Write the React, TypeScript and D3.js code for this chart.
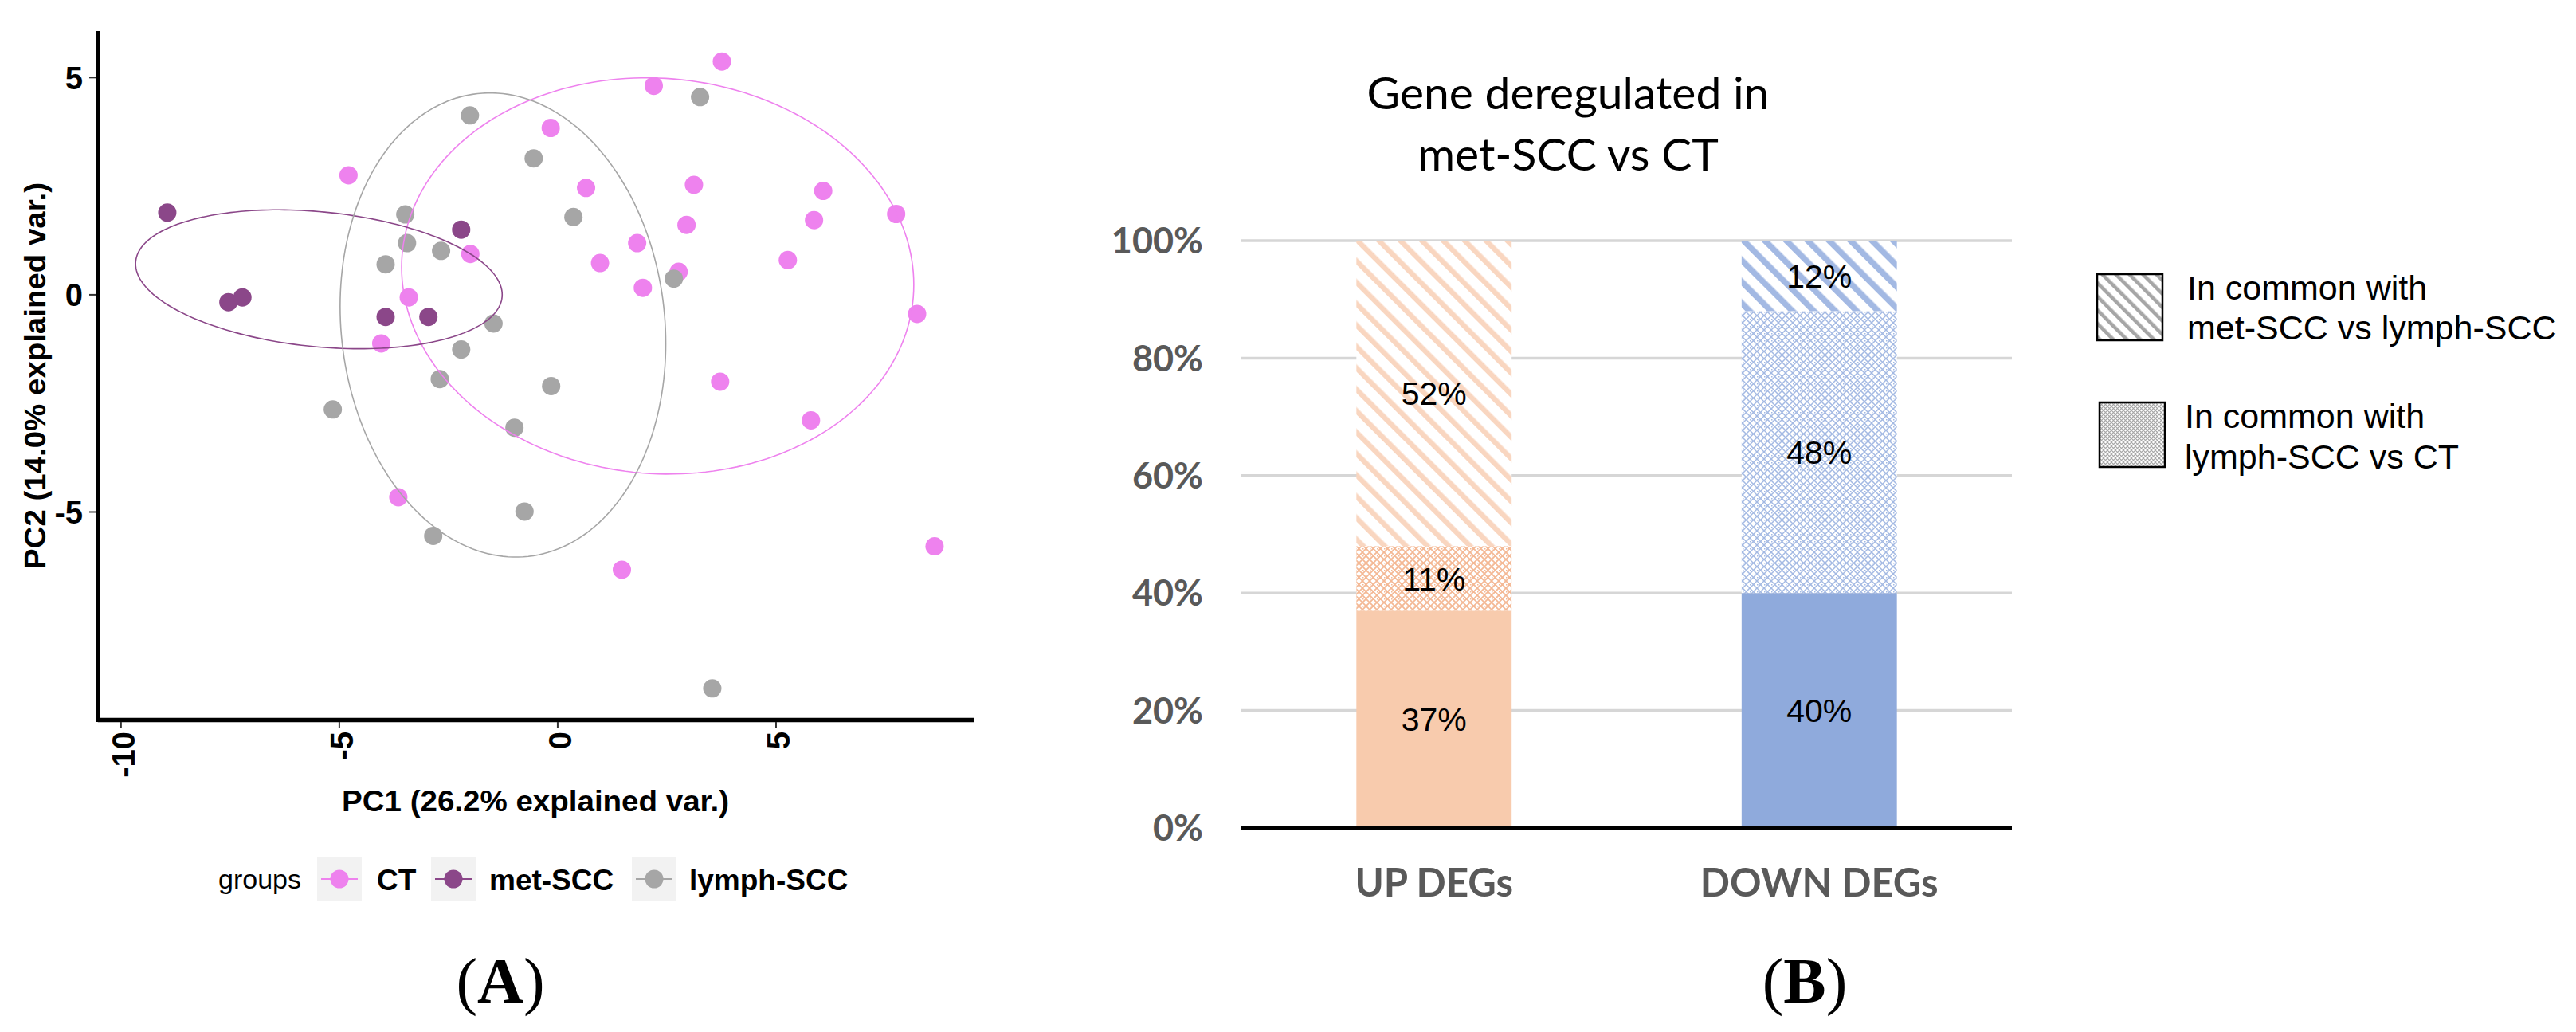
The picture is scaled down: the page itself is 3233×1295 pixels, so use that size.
import * as d3 from "d3";

// ---- panel A: PCA scores ----
const ctPC1 = [-0.16, -4.79, -2.0, -3.41, -4.04, 3.76, 2.2, 0.65, 3.12, 6.08, 2.95, 5.87, 7.75, 1.82, 0.97, 5.27, 2.77, 1.95, 8.23, 3.72, 5.8, -3.65, 1.47, 8.63];
const ctPC2 = [3.84, 2.75, 0.94, -0.06, -1.12, 5.37, 4.81, 2.46, 2.53, 2.39, 1.61, 1.72, 1.86, 1.19, 0.73, 0.8, 0.53, 0.16, -0.44, -2.0, -2.89, -4.66, -6.33, -5.79];
const metPC1 = [-8.94, -7.54, -7.22, -2.21, -3.94, -2.96];
const metPC2 = [1.89, -0.17, -0.06, 1.5, -0.51, -0.51];
const lymphPC1 = [-2.01, -0.55, -3.49, -3.45, -2.67, -3.94, -1.47, -2.21, -2.7, -0.15, -5.15, -0.99, -0.76, -2.85, 3.26, 0.36, 2.66, 3.54];
const lymphPC2 = [4.13, 3.14, 1.85, 1.19, 1.01, 0.7, -0.66, -1.26, -1.94, -2.1, -2.64, -3.06, -4.99, -5.55, 4.55, 1.79, 0.37, -9.06];

const groupNames = ["CT", "met-SCC", "lymph-SCC"];
const groupColors = ["#EE82EE", "#8B4789", "#A6A6A6"];
const pcXTicks = [-10, -5, 0, 5];
const pcYTicks = [-5, 0, 5];

// ---- panel B: share of deregulated genes ----
const barCategories = ["UP DEGs", "DOWN DEGs"];
const ownShare = [37, 40];
const withLymphCt = [11, 48];
const withMetLymph = [52, 12];
const pctTicks = [0, 20, 40, 60, 80, 100];

const SANS = "'Liberation Sans', Arial, sans-serif";
const LATO = "Lato, 'Open Sans', sans-serif";
const SERIF = "'Liberation Serif', 'Times New Roman', serif";

// 68% normal ellipse, same way ggbiplot does it
function ellipse(xs: number[], ys: number[]): [number, number][] {
  const n = xs.length;
  const mx = d3.mean(xs)!;
  const my = d3.mean(ys)!;
  let sxx = 0, syy = 0, sxy = 0;
  for (let i = 0; i < n; i++) {
    const dx = xs[i] - mx, dy = ys[i] - my;
    sxx += dx * dx;
    syy += dy * dy;
    sxy += dx * dy;
  }
  sxx /= n - 1;
  syy /= n - 1;
  sxy /= n - 1;
  const r11 = Math.sqrt(sxx);
  const r12 = sxy / r11;
  const r22 = Math.sqrt(syy - r12 * r12);
  const ed = Math.sqrt(-2 * Math.log(1 - 0.68));
  return d3.range(201).map((i) => {
    const t = -Math.PI + (2 * Math.PI * i) / 200;
    const c = Math.cos(t), s = Math.sin(t);
    return [mx + ed * c * r11, my + ed * (c * r12 + s * r22)];
  });
}

function PcaPanel() {
  const x = d3.scaleLinear().domain([-10.53, 9.54]).range([122.8, 1222.8]);
  const y = d3.scaleLinear().domain([-9.79, 6.07]).range([903.6, 39]);
  const line = d3
    .line<[number, number]>()
    .x((d) => x(d[0]))
    .y((d) => y(d[1]));

  const groups = [
    { xs: ctPC1, ys: ctPC2 },
    { xs: metPC1, ys: metPC2 },
    { xs: lymphPC1, ys: lymphPC2 },
  ];

  const keyX = [398, 541, 793];
  const labelX = [473, 614, 865];

  return (
    <g>
      {groups.map((g, gi) =>
        g.xs.map((v, i) => (
          <circle key={`${gi}-${i}`} cx={x(v)} cy={y(g.ys[i])} r={11.5} fill={groupColors[gi]} />
        ))
      )}
      {groups.map((g, gi) => (
        <path key={gi} d={line(ellipse(g.xs, g.ys)) ?? ""} fill="none" stroke={groupColors[gi]} strokeWidth={1.6} />
      ))}

      {/* axes */}
      <line x1={x.range()[0]} x2={x.range()[1]} y1={903.6} y2={903.6} stroke="#000" strokeWidth={5.5} />
      <line x1={122.8} x2={122.8} y1={y.range()[1]} y2={906} stroke="#000" strokeWidth={5.5} />
      {pcXTicks.map((t) => (
        <g key={t}>
          <line x1={x(t)} x2={x(t)} y1={906} y2={913} stroke="#333" strokeWidth={2} />
          <text
            transform={`translate(${x(t) + 17},918) rotate(-90)`}
            textAnchor="end"
            fontFamily={SANS}
            fontWeight="bold"
            fontSize={40}
          >
            {t}
          </text>
        </g>
      ))}
      {pcYTicks.map((t) => (
        <g key={t}>
          <line x1={112} x2={120} y1={y(t)} y2={y(t)} stroke="#333" strokeWidth={2} />
          <text x={104} y={y(t)} dy="0.36em" textAnchor="end" fontFamily={SANS} fontWeight="bold" fontSize={40}>
            {t}
          </text>
        </g>
      ))}
      <text
        x={672}
        y={1018}
        textAnchor="middle"
        fontFamily={SANS}
        fontWeight="bold"
        fontSize={36}
        textLength={486}
        lengthAdjust="spacingAndGlyphs"
      >
        PC1 (26.2% explained var.)
      </text>
      <text
        transform="translate(57,471.5) rotate(-90)"
        textAnchor="middle"
        fontFamily={SANS}
        fontWeight="bold"
        fontSize={36}
        textLength={485}
        lengthAdjust="spacingAndGlyphs"
      >
        PC2 (14.0% explained var.)
      </text>

      {/* legend */}
      <text x={274} y={1115} fontFamily={SANS} fontSize={34} textLength={104} lengthAdjust="spacingAndGlyphs">
        groups
      </text>
      {groupNames.map((name, i) => (
        <g key={name}>
          <rect x={keyX[i]} y={1075} width={56} height={55} fill="#F2F2F2" />
          <line x1={keyX[i] + 5} x2={keyX[i] + 51} y1={1103} y2={1103} stroke={groupColors[i]} strokeWidth={2} />
          <circle cx={keyX[i] + 28} cy={1103} r={11.5} fill={groupColors[i]} />
          <text x={labelX[i]} y={1117} fontFamily={SANS} fontWeight="bold" fontSize={37}>
            {name}
          </text>
        </g>
      ))}

      <text x={628} y={1258} textAnchor="middle" fontFamily={SERIF} fontSize={80}>
        (<tspan fontWeight="bold">A</tspan>)
      </text>
    </g>
  );
}

function SharePanel() {
  const x = d3.scaleBand<string>().domain(barCategories).range([1558, 2525]).paddingInner(0.597).paddingOuter(0.2985);
  const y = d3.scaleLinear().domain([0, 100]).range([1039, 302]);

  const layers = [
    { values: ownShare, fill: ["#F8CBAD", "#8FAADC"] },
    { values: withLymphCt, fill: ["url(#hatchUp)", "url(#hatchDown)"] },
    { values: withMetLymph, fill: ["url(#stripeUp)", "url(#stripeDown)"] },
  ];

  const segments = layers.flatMap((layer, li) =>
    barCategories.map((cat, ci) => {
      const base = d3.sum(layers.slice(0, li), (l) => l.values[ci]);
      return { cat, ci, li, y0: base, y1: base + layer.values[ci], value: layer.values[ci], fill: layer.fill[ci] };
    })
  );

  return (
    <g>
      <defs>
        <pattern id="stripeUp" width={19} height={19} patternUnits="userSpaceOnUse" patternTransform="rotate(-45)">
          <rect width={19} height={19} fill="#fff" />
          <rect width={6.5} height={19} fill="#F9D6C0" />
        </pattern>
        <pattern id="stripeDown" width={19} height={19} patternUnits="userSpaceOnUse" patternTransform="rotate(-45)">
          <rect width={19} height={19} fill="#fff" />
          <rect width={7.5} height={19} fill="#A3B9E3" />
        </pattern>
        <pattern id="hatchUp" width={9} height={9} patternUnits="userSpaceOnUse">
          <rect width={9} height={9} fill="#fff" />
          <path d="M0,0L9,9M9,0L0,9" stroke="#F4B894" strokeWidth={1.8} />
          <rect x={0} y={4} width={1.5} height={1.5} fill="#F4B894" />
        </pattern>
        <pattern id="hatchDown" width={9} height={9} patternUnits="userSpaceOnUse">
          <rect width={9} height={9} fill="#fff" />
          <path d="M0,0L9,9M9,0L0,9" stroke="#A3B9E3" strokeWidth={1.5} />
          <rect x={0} y={4} width={1.5} height={1.5} fill="#A3B9E3" />
        </pattern>
        <pattern id="stripeKey" width={12} height={12} patternUnits="userSpaceOnUse" patternTransform="rotate(-45)">
          <rect width={12} height={12} fill="#fff" />
          <rect width={4.5} height={12} fill="#A6A6A6" />
        </pattern>
        <pattern id="hatchKey" width={5} height={5} patternUnits="userSpaceOnUse">
          <rect width={5} height={5} fill="#fff" />
          <path d="M0,0L5,5M5,0L0,5" stroke="#A6A6A6" strokeWidth={1.2} />
        </pattern>
      </defs>

      <text textAnchor="middle" fontFamily={LATO} fontSize={57} fill="#000">
        <tspan x={1968} y={137}>Gene deregulated in</tspan>
        <tspan x={1968} y={214}>met-SCC vs CT</tspan>
      </text>

      {pctTicks
        .filter((t) => t > 0)
        .map((t) => (
          <line key={t} x1={1558} x2={2525} y1={y(t)} y2={y(t)} stroke="#D6D6D6" strokeWidth={3.5} />
        ))}
      {pctTicks.map((t) => (
        <text key={t} x={1510} y={y(t)} dy="0.36em" textAnchor="end" fontFamily={LATO} fontWeight="bold" fontSize={45} fill="#595959">
          {t}%
        </text>
      ))}

      {segments.map((s) => (
        <rect
          key={`${s.li}-${s.ci}`}
          x={x(s.cat)}
          y={y(s.y1)}
          width={x.bandwidth()}
          height={y(s.y0) - y(s.y1)}
          fill={s.fill}
        />
      ))}
      {segments.map((s) => (
        <text
          key={`l${s.li}-${s.ci}`}
          x={x(s.cat)! + x.bandwidth() / 2}
          y={y((s.y0 + s.y1) / 2)}
          dy="0.36em"
          textAnchor="middle"
          fontFamily={SANS}
          fontSize={41}
          fill="#000"
        >
          {s.value}%
        </text>
      ))}

      <line x1={1558} x2={2525} y1={1039} y2={1039} stroke="#000" strokeWidth={4} />
      {barCategories.map((c) => (
        <text key={c} x={x(c)! + x.bandwidth() / 2} y={1125} textAnchor="middle" fontFamily={LATO} fontWeight="bold" fontSize={49} fill="#595959">
          {c}
        </text>
      ))}

      {/* legend */}
      <rect x={2632} y={344} width={82} height={83} fill="url(#stripeKey)" stroke="#000" strokeWidth={2.5} />
      <text fontFamily={SANS} fontSize={43} fill="#000">
        <tspan x={2745} y={376}>In common with</tspan>
        <tspan x={2745} y={426}>met-SCC vs lymph-SCC</tspan>
      </text>
      <rect x={2635} y={505} width={82} height={81} fill="url(#hatchKey)" stroke="#000" strokeWidth={2.5} />
      <text fontFamily={SANS} fontSize={43} fill="#000">
        <tspan x={2742} y={537}>In common with</tspan>
        <tspan x={2742} y={588}>lymph-SCC vs CT</tspan>
      </text>

      <text x={2265} y={1258} textAnchor="middle" fontFamily={SERIF} fontSize={80}>
        (<tspan fontWeight="bold">B</tspan>)
      </text>
    </g>
  );
}

export default function App() {
  return (
    <svg
      width={3233}
      height={1295}
      viewBox="0 0 3233 1295"
      style={{ position: "absolute", left: 0, top: 0, background: "#fff" }}
    >
      <rect width={3233} height={1295} fill="#fff" />
      <PcaPanel />
      <SharePanel />
    </svg>
  );
}
